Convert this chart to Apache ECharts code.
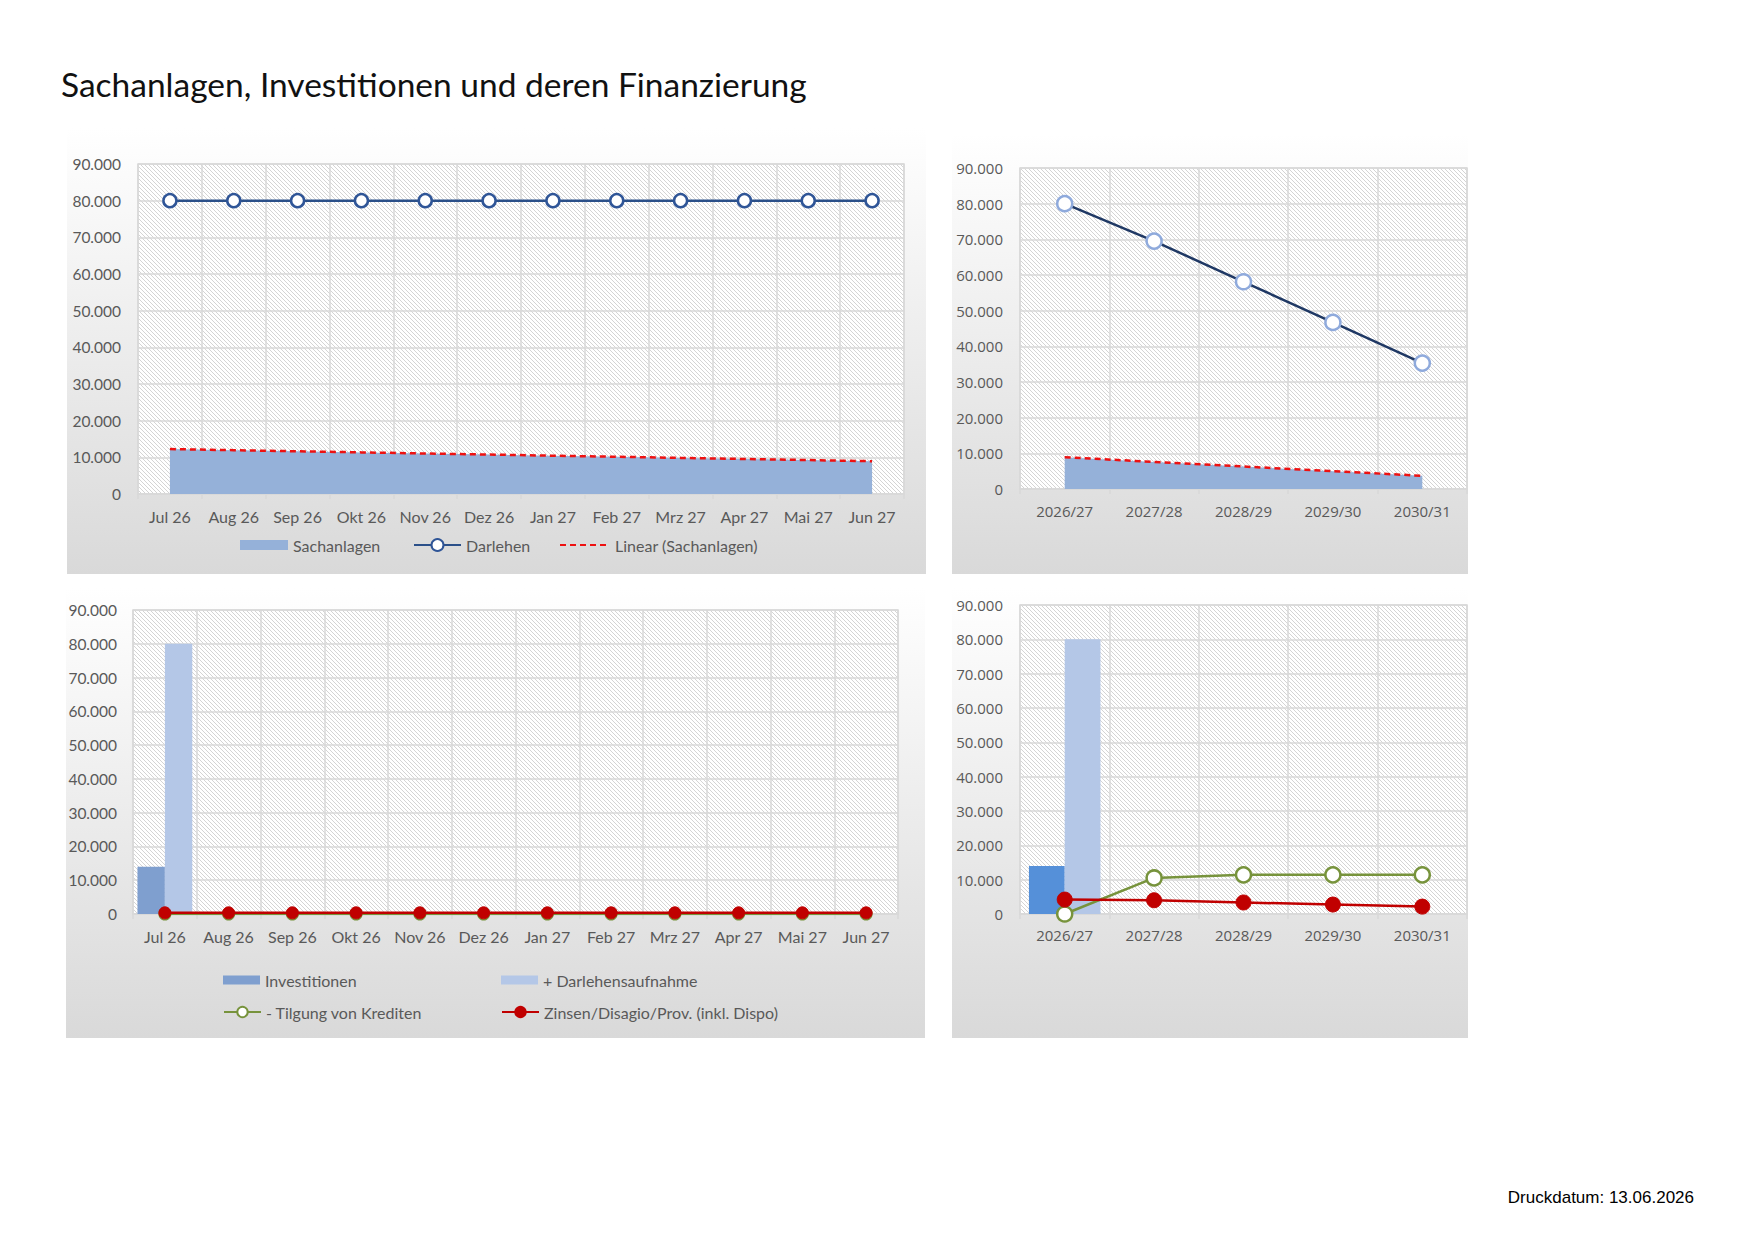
<!DOCTYPE html>
<html><head><meta charset="utf-8">
<script src="https://cdn.jsdelivr.net/npm/echarts@6/dist/echarts.min.js"></script>
<style>html,body{margin:0;padding:0;background:#fff}#c{width:1754px;height:1240px}</style>
</head><body><div id="c"></div>
<script>
// ---- data ----
const titleText = 'Sachanlagen, Investitionen und deren Finanzierung';
const printDate = 'Druckdatum: 13.06.2026';
const months = ['Jul 26','Aug 26','Sep 26','Okt 26','Nov 26','Dez 26','Jan 27','Feb 27','Mrz 27','Apr 27','Mai 27','Jun 27'];
const years = ['2026/27','2027/28','2028/29','2029/30','2030/31'];
const yMin = 0, yMax = 90000, yStep = 10000;

const sachanlagenMonthly = [12250, 11950, 11650, 11350, 11050, 10750, 10450, 10150, 9850, 9550, 9250, 8950];
const trendSachanlagenMonthly = [12250, 11950, 11650, 11350, 11050, 10750, 10450, 10150, 9850, 9550, 9250, 8950];
const darlehenMonthly = [80000, 80000, 80000, 80000, 80000, 80000, 80000, 80000, 80000, 80000, 80000, 80000];

const sachanlagenYearly = [8900, 7600, 6300, 5000, 3700];
const trendSachanlagenYearly = [8900, 7600, 6300, 5000, 3700];
const darlehenYearly = [80000, 69500, 58100, 46700, 35300];

const investMonthly = [14000, 0, 0, 0, 0, 0, 0, 0, 0, 0, 0, 0];
const aufnahmeMonthly = [80000, 0, 0, 0, 0, 0, 0, 0, 0, 0, 0, 0];
const tilgungMonthly = [0, 0, 0, 0, 0, 0, 0, 0, 0, 0, 0, 0];
const zinsenMonthly = [350, 350, 350, 350, 350, 350, 350, 350, 350, 350, 350, 350];

const investYearly = [14000, 0, 0, 0, 0];
const aufnahmeYearly = [80000, 0, 0, 0, 0];
const tilgungYearly = [0, 10500, 11400, 11400, 11400];
const zinsenYearly = [4200, 4000, 3350, 2750, 2150];

// ---- styling helpers ----
const LEFT_FONT = 'Lato, "Open Sans", sans-serif';
const RIGHT_FONT = '"Open Sans", "Noto Sans", sans-serif';
const GRIDC = '#d9d9d9';
const LABC = '#595959';
const AREA = '#95B1D9';

function hatch() {
  const c = document.createElement('canvas'); c.width = 4; c.height = 4;
  const g = c.getContext('2d');
  g.fillStyle = '#ffffff'; g.fillRect(0, 0, 4, 4);
  g.fillStyle = '#d4d4d4';
  for (let i = 0; i < 4; i++) g.fillRect(i, i, 1, 1);
  return c;
}
const pattern = { image: hatch(), repeat: 'repeat' };

function fmt(v) {
  if (v === 0) return '0';
  return String(Math.round(v)).replace(/\B(?=(\d{3})+(?!\d))/g, '.');
}
function grid(left, top, right, bottom) {
  return { left: left, top: top, width: right - left, height: bottom - top, show: true,
    backgroundColor: pattern, borderColor: GRIDC, borderWidth: 1.5, containLabel: false, outerBoundsMode: 'none' };
}
function xAx(gi, data, font, size, margin) {
  return { type: 'category', gridIndex: gi, data: data, boundaryGap: true,
    axisLine: { show: true, lineStyle: { color: GRIDC, width: 1.5 } },
    axisTick: { show: true, length: 5, interval: 0, lineStyle: { color: GRIDC, width: 1.5 } },
    axisLabel: { color: LABC, fontFamily: font, fontSize: size, margin: margin, interval: 0 },
    splitLine: { show: true, interval: 0, lineStyle: { color: GRIDC, width: 1.5 } } };
}
function yAx(gi, font, size, margin) {
  return { type: 'value', gridIndex: gi, min: yMin, max: yMax, interval: yStep,
    axisLine: { show: false }, axisTick: { show: false },
    axisLabel: { color: LABC, fontFamily: font, fontSize: size, margin: margin, formatter: fmt },
    splitLine: { show: true, lineStyle: { color: GRIDC, width: 1.5 } } };
}
function leg(item, left, top, w, h) {
  return { show: true, data: [item], left: left, top: top,
    itemWidth: w, itemHeight: h, padding: 0, itemGap: 0, selectedMode: false,
    textStyle: { color: LABC, fontFamily: LEFT_FONT, fontSize: 16 } };
}
function panel(x, y, w, h) {
  return { type: 'rect', x: x, y: y, z: -100, silent: true, shape: { width: w, height: h },
    style: { fill: { type: 'linear', x: 0, y: 0, x2: 0, y2: 1,
      colorStops: [{ offset: 0, color: '#ffffff' }, { offset: 1, color: '#d9d9d9' }] } } };
}

const chart = echarts.init(document.getElementById('c'), null, { renderer: 'svg', width: 1754, height: 1240 });

const option = {
  animation: false,
  backgroundColor: '#ffffff',
  graphic: [
    panel(67, 128, 859, 446),
    panel(952, 134, 516, 440),
    panel(66, 588, 859, 450),
    panel(952, 588, 516, 450),
    { type: 'text', x: 61, y: 84, style: { text: titleText, fontFamily: LEFT_FONT, fontSize: 33.5, fill: '#111111', align: 'left', verticalAlign: 'middle' } },
    { type: 'text', x: 1694, y: 1197, style: { text: printDate, fontFamily: '"Liberation Sans", Arial, sans-serif', fontSize: 17, fill: '#000000', align: 'right', verticalAlign: 'middle' } }
  ],
  grid: [
    grid(138, 164, 904, 494),
    grid(1020, 168, 1467, 489),
    grid(133, 610, 898, 914),
    grid(1020, 605, 1467, 914)
  ],
  xAxis: [
    xAx(0, months, LEFT_FONT, 16, 14),
    xAx(1, years, RIGHT_FONT, 15, 14),
    xAx(2, months, LEFT_FONT, 16, 14),
    xAx(3, years, RIGHT_FONT, 15, 13)
  ],
  yAxis: [
    yAx(0, LEFT_FONT, 15.5, 17),
    yAx(1, RIGHT_FONT, 15, 17),
    yAx(2, LEFT_FONT, 15.5, 16),
    yAx(3, RIGHT_FONT, 15, 17)
  ],
  legend: [
    leg({ name: 'Sachanlagen', icon: 'rect' }, 240, 537, 48, 10),
    leg('Darlehen', 413, 537, 47, 15),
    leg({ name: 'Linear (Sachanlagen)', itemStyle: { color: 'rgba(0,0,0,0)', borderColor: 'rgba(0,0,0,0)', borderWidth: 0, opacity: 0 } }, 559, 537, 50, 15),
    leg({ name: 'Investitionen', icon: 'rect' }, 223, 972, 37, 9),
    leg({ name: '+ Darlehensaufnahme', icon: 'rect' }, 501, 972, 37, 9),
    leg('- Tilgung von Krediten', 223, 1004, 37, 13),
    leg('Zinsen/Disagio/Prov. (inkl. Dispo)', 501, 1004, 37, 13)
  ],
  series: [
    // top-left
    { name: 'Sachanlagen', type: 'line', xAxisIndex: 0, yAxisIndex: 0, data: sachanlagenMonthly,
      symbol: 'none', lineStyle: { width: 0, color: AREA }, itemStyle: { color: AREA },
      areaStyle: { color: AREA, opacity: 1 }, z: 1 },
    { name: 'Darlehen', type: 'line', xAxisIndex: 0, yAxisIndex: 0, data: darlehenMonthly,
      symbol: 'circle', symbolSize: 13, showSymbol: true,
      lineStyle: { color: '#2B5089', width: 2.5 },
      itemStyle: { color: '#ffffff', borderColor: '#2F5597', borderWidth: 2.5 }, z: 3 },
    { name: 'Linear (Sachanlagen)', type: 'line', xAxisIndex: 0, yAxisIndex: 0, data: trendSachanlagenMonthly,
      symbol: 'none', lineStyle: { color: '#EE1111', width: 2.5, type: [6, 4] },
      itemStyle: { color: '#EE1111' }, z: 2 },
    // top-right
    { name: 'Sachanlagen', type: 'line', xAxisIndex: 1, yAxisIndex: 1, data: sachanlagenYearly,
      symbol: 'none', lineStyle: { width: 0, color: AREA }, itemStyle: { color: AREA },
      areaStyle: { color: AREA, opacity: 1 }, z: 1 },
    { name: 'Darlehen', type: 'line', xAxisIndex: 1, yAxisIndex: 1, data: darlehenYearly,
      symbol: 'circle', symbolSize: 15, showSymbol: true,
      lineStyle: { color: '#1F3864', width: 2.5 },
      itemStyle: { color: '#ffffff', borderColor: '#8FAADC', borderWidth: 2.5 }, z: 3 },
    { name: 'Linear (Sachanlagen)', type: 'line', xAxisIndex: 1, yAxisIndex: 1, data: trendSachanlagenYearly,
      symbol: 'none', lineStyle: { color: '#EE1111', width: 2.5, type: [6, 4] },
      itemStyle: { color: '#EE1111' }, z: 2 },
    // bottom-left
    { name: 'Investitionen', type: 'bar', xAxisIndex: 2, yAxisIndex: 2, data: investMonthly,
      barGap: 0, barCategoryGap: '14%', itemStyle: { color: '#7F9FCF' } },
    { name: '+ Darlehensaufnahme', type: 'bar', xAxisIndex: 2, yAxisIndex: 2, data: aufnahmeMonthly,
      barGap: 0, barCategoryGap: '14%', itemStyle: { color: '#B4C7E7' } },
    { name: '- Tilgung von Krediten', type: 'line', xAxisIndex: 2, yAxisIndex: 2, data: tilgungMonthly,
      symbol: 'circle', symbolSize: 11, showSymbol: true,
      lineStyle: { color: '#77933C', width: 2.5 },
      itemStyle: { color: '#ffffff', borderColor: '#77933C', borderWidth: 2 }, z: 3 },
    { name: 'Zinsen/Disagio/Prov. (inkl. Dispo)', type: 'line', xAxisIndex: 2, yAxisIndex: 2, data: zinsenMonthly,
      symbol: 'circle', symbolSize: 12, showSymbol: true,
      lineStyle: { color: '#C00000', width: 2.5 },
      itemStyle: { color: '#C00000', borderColor: '#C00000', borderWidth: 1 }, z: 4 },
    // bottom-right
    { name: 'Investitionen', type: 'bar', xAxisIndex: 3, yAxisIndex: 3, data: investYearly,
      barGap: 0, barCategoryGap: '20%', itemStyle: { color: '#5590D9' } },
    { name: '+ Darlehensaufnahme', type: 'bar', xAxisIndex: 3, yAxisIndex: 3, data: aufnahmeYearly,
      barGap: 0, barCategoryGap: '20%', itemStyle: { color: '#B4C7E7' } },
    { name: '- Tilgung von Krediten', type: 'line', xAxisIndex: 3, yAxisIndex: 3, data: tilgungYearly,
      symbol: 'circle', symbolSize: 15, showSymbol: true,
      lineStyle: { color: '#77933C', width: 2.5 },
      itemStyle: { color: '#ffffff', borderColor: '#77933C', borderWidth: 2.5 }, z: 3 },
    { name: 'Zinsen/Disagio/Prov. (inkl. Dispo)', type: 'line', xAxisIndex: 3, yAxisIndex: 3, data: zinsenYearly,
      symbol: 'circle', symbolSize: 15, showSymbol: true,
      lineStyle: { color: '#C00000', width: 2.5 },
      itemStyle: { color: '#C00000', borderColor: '#C00000', borderWidth: 1 }, z: 4 }
  ]
};
chart.setOption(option);
</script>
</body></html>
